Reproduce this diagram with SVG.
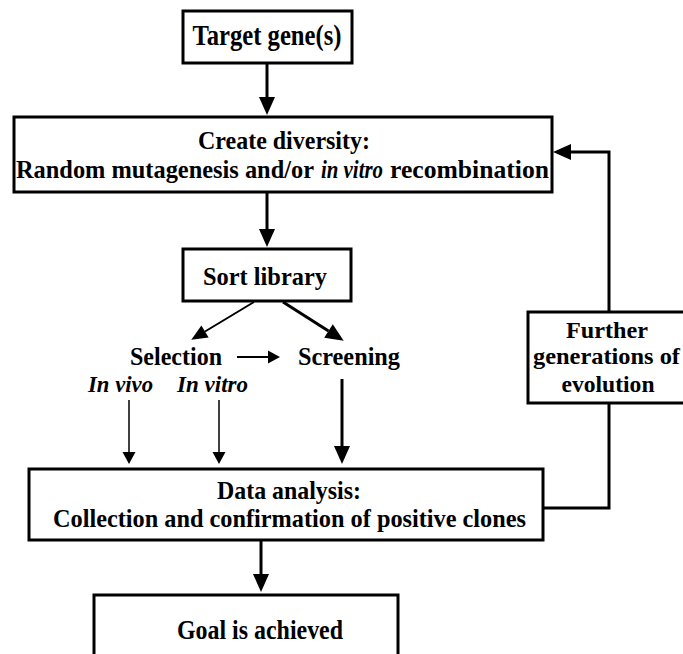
<svg xmlns="http://www.w3.org/2000/svg" width="683" height="654" viewBox="0 0 683 654">
<style>
  .box { fill: #fff; stroke: #000; stroke-width: 3; }
  .t { font-family: "Liberation Serif", "Times New Roman", serif; font-weight: bold; fill: #000; }
  .i { font-style: italic; }
  .ln { stroke: #000; fill: none; }
  .thick { stroke-width: 3; }
  .mid { stroke-width: 2; }
  .thin { stroke-width: 1.5; }
</style>
<defs>
  <marker id="ah" markerUnits="userSpaceOnUse" orient="auto" refX="0" refY="0" markerWidth="20" markerHeight="20" overflow="visible">
    <path d="M0,-8 L18,0 L0,8 z" fill="#000"/>
  </marker>
  <marker id="ahm" markerUnits="userSpaceOnUse" orient="auto" refX="0" refY="0" markerWidth="20" markerHeight="20" overflow="visible">
    <path d="M0,-7 L16,0 L0,7 z" fill="#000"/>
  </marker>
  <marker id="ahs" markerUnits="userSpaceOnUse" orient="auto" refX="0" refY="0" markerWidth="20" markerHeight="20" overflow="visible">
    <path d="M0,-6.5 L12,0 L0,6.5 z" fill="#000"/>
  </marker>
</defs>
<rect width="683" height="654" fill="#fff"/>

<g id="connectors">
  <line class="ln thick" x1="267" y1="63" x2="267" y2="97" marker-end="url(#ah)"/>
  <line class="ln thick" x1="267" y1="192" x2="267" y2="229" marker-end="url(#ah)"/>
  <line class="ln mid" x1="254" y1="302" x2="205" y2="331.5" marker-end="url(#ahm)"/>
  <line class="ln thick" x1="283" y1="302" x2="328.5" y2="331" marker-end="url(#ah)"/>
  <line class="ln mid" x1="237" y1="357" x2="268" y2="357" marker-end="url(#ahs)"/>
  <line class="ln thin" x1="129" y1="400" x2="129" y2="452" marker-end="url(#ahs)"/>
  <line class="ln thin" x1="219" y1="400" x2="219" y2="452" marker-end="url(#ahs)"/>
  <line class="ln thick" x1="342" y1="379" x2="342" y2="446" marker-end="url(#ah)"/>
  <line class="ln thick" x1="261" y1="540" x2="261" y2="574" marker-end="url(#ah)"/>
  <polyline class="ln thick" points="543,508 609,508 609,403"/>
  <polyline class="ln thick" points="609,312 609,152 571,152" marker-end="url(#ah)"/>
</g>

<g id="target">
  <rect class="box" x="183" y="11" width="169" height="52"/>
  <text class="t" x="267" y="45" font-size="29" text-anchor="middle" textLength="149" lengthAdjust="spacingAndGlyphs">Target gene(s)</text>
</g>

<g id="diversity">
  <rect class="box" x="14" y="117" width="538" height="75"/>
  <text class="t" x="198" y="149" font-size="25" textLength="172" lengthAdjust="spacingAndGlyphs">Create diversity:</text>
  <text class="t" x="16" y="178" font-size="25" textLength="298" lengthAdjust="spacingAndGlyphs">Random mutagenesis and/or</text>
  <text class="t i" x="321" y="178" font-size="25" textLength="62" lengthAdjust="spacingAndGlyphs">in vitro</text>
  <text class="t" x="390" y="178" font-size="25" textLength="159" lengthAdjust="spacingAndGlyphs">recombination</text>
</g>

<g id="sort">
  <rect class="box" x="183" y="249" width="168" height="52"/>
  <text class="t" x="203" y="285" font-size="25" textLength="124" lengthAdjust="spacingAndGlyphs">Sort library</text>
</g>

<g id="selection">
  <text class="t" x="130" y="365" font-size="25" textLength="92" lengthAdjust="spacingAndGlyphs">Selection</text>
  <text class="t i" x="88" y="392" font-size="24" textLength="65" lengthAdjust="spacingAndGlyphs">In vivo</text>
  <text class="t i" x="177" y="392" font-size="24" textLength="71" lengthAdjust="spacingAndGlyphs">In vitro</text>
</g>

<g id="screening">
  <text class="t" x="298" y="365" font-size="25" textLength="102" lengthAdjust="spacingAndGlyphs">Screening</text>
</g>

<g id="analysis">
  <rect class="box" x="29" y="469" width="514" height="71"/>
  <text class="t" x="217" y="499" font-size="25" textLength="144" lengthAdjust="spacingAndGlyphs">Data analysis:</text>
  <text class="t" x="53" y="527" font-size="25" textLength="473" lengthAdjust="spacingAndGlyphs">Collection and confirmation of positive clones</text>
</g>

<g id="further">
  <rect class="box" x="528" y="312" width="170" height="91"/>
  <text class="t" x="607" y="338" font-size="24" text-anchor="middle" textLength="82" lengthAdjust="spacingAndGlyphs">Further</text>
  <text class="t" x="533" y="364" font-size="24" textLength="147" lengthAdjust="spacingAndGlyphs">generations of</text>
  <text class="t" x="608" y="392" font-size="24" text-anchor="middle" textLength="93" lengthAdjust="spacingAndGlyphs">evolution</text>
</g>

<g id="goal">
  <rect class="box" x="94" y="595" width="304" height="75"/>
  <text class="t" x="177" y="639" font-size="27" textLength="166" lengthAdjust="spacingAndGlyphs">Goal is achieved</text>
</g>
</svg>
